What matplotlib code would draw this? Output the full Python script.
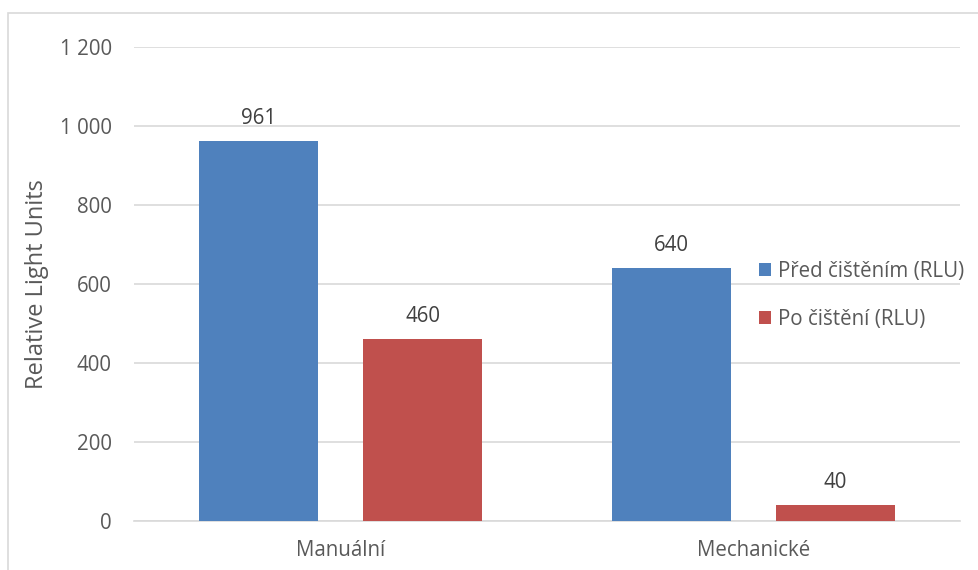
import matplotlib
matplotlib.use("Agg")
import numpy as np
import matplotlib.pyplot as plt
from matplotlib.patches import Rectangle
from matplotlib.ticker import FuncFormatter

# data
categories = ["Manuální", "Mechanické"]
series_names = ["Před čištěním (RLU)", "Po čištění (RLU)"]
pred_cisteni = [961, 640]
po_cisteni = [460, 40]

colors = ["#4F81BD", "#C0504D"]
text_col = "#595959"
grid_col = "#D9D9D9"

plt.rcParams["font.family"] = ["Open Sans", "DejaVu Sans"]
FS = 14.8

fig = plt.figure(figsize=(9.79, 5.70), dpi=100)
W, H = 979, 570
ax = fig.add_axes([134 / W, 49 / H, (960 - 134) / W, (523 - 49) / H])

x = np.arange(len(categories))
bar_w = 0.288
offsets = [-0.199, 0.199]

for vals, name, col, off in zip([pred_cisteni, po_cisteni], series_names, colors, offsets):
    bars = ax.bar(x + off, vals, bar_w, color=col, label=name, zorder=3)
    for b, v in zip(bars, vals):
        ax.annotate(f"{v}", (b.get_x() + b.get_width() / 2, v),
                    xytext=(0, 9), textcoords="offset points",
                    ha="center", va="bottom", fontsize=FS, color="#404040")

ax.set_xlim(-0.5, 1.5)
ax.set_ylim(0, 1200)
ax.set_yticks(np.arange(0, 1201, 200))
ax.yaxis.set_major_formatter(FuncFormatter(lambda v, p: f"{int(v):,}".replace(",", " ")))
ax.set_xticks(x)
ax.set_xticklabels(categories)
ax.grid(axis="y", color=grid_col, lw=1.2, zorder=0)
for s in ["top", "right", "left"]:
    ax.spines[s].set_visible(False)
ax.spines["bottom"].set_color(grid_col)
ax.spines["bottom"].set_linewidth(1.2)
ax.tick_params(axis="both", length=0, labelsize=FS, colors=text_col)
ax.tick_params(axis="y", pad=16)
ax.tick_params(axis="x", pad=14)
ax.set_ylabel("Relative Light Units", fontsize=17, color=text_col, labelpad=8)

leg = ax.legend(loc="center left", bbox_to_anchor=(740 / W, 274.5 / H),
                bbox_transform=fig.transFigure, frameon=False, fontsize=FS,
                handlelength=0.6, handleheight=0.6, handletextpad=0.35,
                labelspacing=1.3, labelcolor=text_col)

# chart area border
fig.patches.append(Rectangle((8 / W, -0.1), 1.1, (570 - 13) / H + 0.1,
                             transform=fig.transFigure, fill=False,
                             edgecolor=grid_col, lw=1.2))

fig.savefig("out.png", dpi=100)
